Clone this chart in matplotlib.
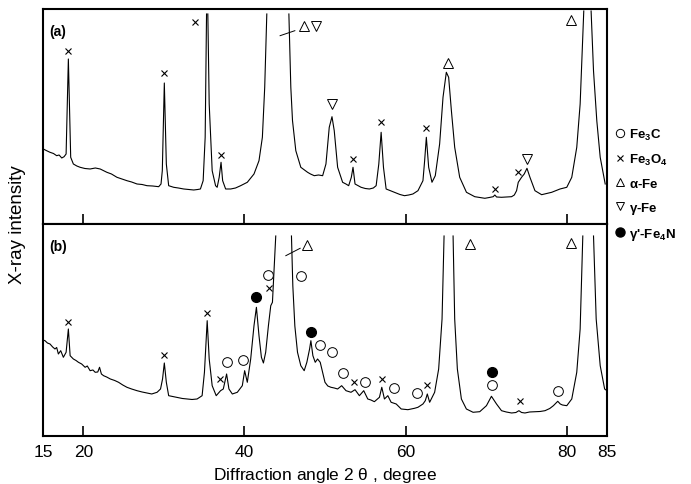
import numpy as np
import matplotlib
matplotlib.use('Agg')
import matplotlib.pyplot as plt
from matplotlib.lines import Line2D

plt.rcParams['font.family'] = ['Liberation Sans', 'DejaVu Sans']
plt.rcParams['mathtext.default'] = 'regular'

nan = np.nan

# pattern (a) -- 2theta in degree, intensity in arb. units (nan = pen off scale)
two_theta_a = [15.04, 15.4, 15.87, 16.3, 16.70, 17.0, 17.33, 17.62, 17.87, 18.15, 18.44, 18.77,
               19.2, 19.61, 20.2, 20.85, 21.5, 22.10, 22.93, 23.5, 24.18, 24.8, 25.42, 26.0,
               26.67, 27.3, 27.91, 28.6, 29.36, 29.65, 29.81, 30.06, 30.31, 30.60, 31.22, 31.8,
               32.47, 33.1, 33.71, 34.2, 34.54, 34.88, 35.13, 35.30, nan, 35.46, 35.63, 36.00,
               36.42, 36.62, 36.87, 37.10, 37.30, 37.67, 38.3, 38.9, 39.53, 40.36, 41.19, 41.81,
               42.23, 42.52, 42.78, nan, 45.52, 45.76, 45.97, 46.38, 47.0, 47.84, 48.2, 48.67,
               49.2, 49.71, 50.12, 50.53, 50.87, 51.15, 51.57, 52.19, 52.6, 52.94, 53.27, 53.48,
               53.73, 54.48, 55.0, 55.51, 56.0, 56.35, 56.68, 56.97, 57.26, 57.59, 58.63, 59.3,
               59.87, 60.4, 60.91, 61.54, 62.16, 62.37, 62.58, 62.87, 63.28, 63.69, 64.23, 64.65,
               65.06, 65.35, 65.69, 66.10, 66.72, 67.56, 68.59, 69.2, 69.84, 70.4, 70.88, 71.08,
               71.3, 71.91, 72.5, 73.16, 73.5, 73.78, 73.99, 74.40, 74.73, 75.07, 75.44, 76.06,
               76.89, 77.5, 78.14, 78.7, 79.17, 80.01, 80.63, 81.25, 81.67, 81.96, 82.12, nan,
               83.03, 83.33, 83.74, 84.16, 84.78]
intensity_a = [75, 73.5, 71.7, 70.5, 68.3, 69, 66, 67.3, 70, 165, 66.7, 60,
               58, 56.7, 55.5, 55, 56, 55, 51.7, 50, 46.7, 45, 43.3, 42,
               40, 39.5, 38.3, 38, 37.3, 40, 53.3, 141, 60, 38.3, 36.7, 36,
               35, 34.5, 34, 34.5, 35, 43.3, 86.7, 210, nan, 210, 120, 53.3,
               38.3, 36.7, 46.7, 61.7, 43.3, 35, 35, 36, 38.3, 41.7, 50, 63.3,
               86.7, 136.7, 210, nan, 210, 136.7, 103.3, 73.3, 56.7, 51.7, 50, 48.3,
               49, 48.3, 60, 96.7, 107.3, 93.3, 56.7, 41.7, 40, 38.3, 46.7, 56.7,
               40, 36.7, 35.5, 35, 36, 38.3, 60, 91.7, 56.7, 35, 31.7, 29.5,
               28.3, 29, 30, 33.3, 43.3, 63.3, 86.7, 56.7, 41.7, 48.3, 80, 126.7,
               151.7, 146.7, 113.3, 76.7, 46.7, 31.7, 27.3, 26.5, 25.7, 26.5, 27.3, 29,
               27, 26.7, 27, 27.3, 29, 33.3, 41.7, 46.7, 50, 55.7, 46.7, 33.3,
               29.3, 30.5, 31.7, 33.5, 35, 36.7, 46.7, 76.7, 120, 180, 213, nan,
               213, 153, 103, 66.7, 40]

# pattern (b)
two_theta_b = [15.0, 15.25, 15.55, 15.87, 16.2, 16.49, 16.7, 16.91, 17.20, 17.53, 17.87, 18.15,
               18.37, 18.77, 19.1, 19.40, 19.8, 20.23, 20.5, 20.85, 21.2, 21.48, 21.8, 22.02,
               22.25, 22.52, 22.9, 23.36, 23.9, 24.38, 24.9, 25.42, 26.0, 26.67, 27.3, 27.91,
               28.5, 29.16, 29.59, 29.84, 30.06, 30.31, 30.60, 31.1, 31.64, 32.3, 32.89, 33.5,
               34.13, 34.75, 35.04, 35.38, 35.63, 36.00, 36.50, 37.04, 37.38, 37.79, 38.08, 38.5,
               39.12, 39.74, 40.03, 40.36, 40.78, 41.19, 41.49, 41.81, 42.11, 42.36, 42.64, 42.98,
               43.27, 43.48, 43.69, 43.89, nan, 45.84, 46.01, 46.26, 46.59, 47.0, 47.42, 47.75,
               48.09, 48.25, 48.50, 48.79, 49.08, 49.41, 49.71, 50.0, 50.35, 50.74, 51.15, 51.57,
               52.07, 52.61, 53.23, 53.73, 54.27, 54.81, 55.31, 55.7, 56.13, 56.76, 57.05, 57.38,
               57.80, 58.21, 58.84, 59.46, 60.29, 61.12, 61.54, 62.16, 62.45, 62.70, 62.99, 63.61,
               64.11, 64.53, 64.78, nan, 65.90, 66.10, 66.43, 66.93, 67.55, 68.38, 69.21, 70.04,
               70.66, 71.29, 71.91, 72.5, 73.16, 73.7, 74.07, 74.4, 74.82, 75.4, 76.06, 76.7,
               77.31, 77.9, 78.35, 78.89, 79.2, 79.47, 80.01, 80.63, 81.25, 81.67, 82.0, nan,
               83.33, 83.66, 84.16, 84.71, 84.99]
intensity_b = [96, 95.3, 93, 92, 89, 87, 88.5, 82, 85.3, 78.7, 83.7, 107,
               80.3, 77, 75.5, 73.7, 72, 68.7, 70, 65.3, 66, 63.7, 64, 68.7,
               62, 60.3, 59, 57, 55.5, 53.7, 51, 48.7, 47, 45.3, 44, 43,
               42, 43.7, 47, 57, 73, 53.7, 40.3, 39.5, 38.7, 37.5, 37, 36.5,
               37, 40.3, 63.7, 115.3, 77, 50.3, 40.3, 45.3, 47, 62, 47, 42,
               43.7, 50.3, 65.3, 53.7, 77, 110.3, 128.7, 100.3, 78.7, 73, 83.7, 110.3,
               130.3, 133.7, 167, 200, nan, 200, 150, 110, 83.7, 70.3, 65.3, 73.7,
               87, 95.3, 80.3, 73.7, 77, 73.7, 63.7, 53.7, 50, 48.7, 48, 47,
               50.3, 45.3, 43.7, 46.3, 40.3, 45.3, 37, 36, 34.3, 38.7, 48.7, 37,
               40.3, 33.7, 32, 27, 26.3, 27.7, 28.7, 32, 35.3, 42, 33.7, 43.7,
               67, 117, 200, nan, 200, 117, 67, 37, 27, 23.7, 24.3, 30.3,
               39.7, 32, 25.3, 24, 23, 23.5, 25.3, 23.5, 23, 24, 24.3, 24.5,
               25.3, 27.5, 30.3, 34.7, 32, 31, 30.3, 37, 63.7, 107, 200, nan,
               200, 117, 70.3, 47, 45.3]

# phase symbols placed over the peaks (2theta, intensity)
fe3o4_a_x = [18.15, 30.07, 33.84, 37.04, 53.44, 56.97, 62.49, 71.08, 73.99]
fe3o4_a_y = [173.3, 151, 201.7, 69.3, 65, 101.7, 95.7, 35, 51.7]
alpha_a_x = [47.42, 65.27, 80.54]
alpha_a_y = [198.3, 160.7, 204]
gamma_a_x = [48.87, 50.83, 75.02]
gamma_a_y = [198.3, 120, 65]

fe3o4_b_x = [18.15, 30.07, 35.38, 36.92, 43.06, 53.57, 57.09, 62.66, 74.19]
fe3o4_b_y = [114.3, 81, 122.7, 57, 147.7, 54.3, 56.7, 51.3, 34.7]
fe3c_b_x = [37.87, 39.87, 42.93, 47.0, 49.33, 50.83, 52.27, 54.97, 58.55, 61.40, 70.67, 78.89]
fe3c_b_y = [73.7, 76.3, 161, 159.7, 91.3, 84.3, 62.7, 53.7, 48.3, 43, 51, 44.7]
fe4n_b_x = [41.40, 48.25, 70.67]
fe4n_b_y = [138.7, 103.7, 63.7]
alpha_b_x = [47.75, 67.96, 80.54]
alpha_b_y = [191, 192, 192.7]

# leader strokes across the off-scale alpha-Fe(110) peak
lead_a = ([44.43, 46.26], [188.3, 193.3])
lead_b = ([45.14, 46.92], [180.3, 187.7])

sym = dict(
    fe3c=dict(marker='o', ms=7, mfc='white', mec='black', mew=0.7, ls='none'),
    fe3o4=dict(marker='x', ms=5, mec='black', mew=0.8, ls='none'),
    alpha=dict(marker='^', ms=7, mfc='white', mec='black', mew=0.7, ls='none'),
    gamma=dict(marker='v', ms=7, mfc='white', mec='black', mew=0.7, ls='none'),
    fe4n=dict(marker='o', ms=7, mfc='black', mec='black', ls='none'),
)

fig = plt.figure(figsize=(6.91, 4.85), dpi=100)
ax_a = fig.add_axes([0.0622, 0.5361, 0.8162, 0.4433])
ax_b = fig.add_axes([0.0622, 0.0990, 0.8162, 0.4371])

ax_a.plot(two_theta_a, intensity_a, color='black', lw=0.8)
ax_a.plot(fe3o4_a_x, fe3o4_a_y, **sym['fe3o4'])
ax_a.plot(alpha_a_x, alpha_a_y, **sym['alpha'])
ax_a.plot(gamma_a_x, gamma_a_y, **sym['gamma'])
ax_a.plot(*lead_a, color='black', lw=0.7)
ax_a.set_ylim(0, 215)

ax_b.plot(two_theta_b, intensity_b, color='black', lw=0.8)
ax_b.plot(fe3c_b_x, fe3c_b_y, **sym['fe3c'])
ax_b.plot(fe3o4_b_x, fe3o4_b_y, **sym['fe3o4'])
ax_b.plot(fe4n_b_x, fe4n_b_y, **sym['fe4n'])
ax_b.plot(alpha_b_x, alpha_b_y, **sym['alpha'])
ax_b.plot(*lead_b, color='black', lw=0.7)
ax_b.set_ylim(0, 212)

for ax, tag in ((ax_a, '(a)'), (ax_b, '(b)')):
    ax.set_xlim(15, 85)
    ax.set_yticks([])
    ax.set_xticks([20, 40, 60, 80])
    ax.tick_params(axis='x', which='major', direction='in', length=7, width=1.2)
    for s in ax.spines.values():
        s.set_linewidth(1.5)
    ax.text(0.012, 0.93, tag, transform=ax.transAxes, fontsize=10,
            fontweight='bold', va='top', ha='left')

ax_a.tick_params(axis='x', labelbottom=False)
ax_b.set_xticks([15, 85], minor=True, labels=['15', '85'])
ax_b.tick_params(axis='x', which='both', labelsize=12.5, pad=6)
ax_b.tick_params(axis='x', which='minor', length=0)
ax_b.set_xlabel(r'Diffraction angle 2 $\theta$ , degree', fontsize=12.5, labelpad=4)
fig.text(0.026, 0.5361, 'X-ray intensity', rotation=90, fontsize=13.5,
         ha='center', va='center')

handles = [
    Line2D([], [], **dict(sym['fe3c'], ms=6)),
    Line2D([], [], **dict(sym['fe3o4'], ms=4.5)),
    Line2D([], [], **dict(sym['alpha'], ms=6)),
    Line2D([], [], **dict(sym['gamma'], ms=5.5)),
    Line2D([], [], **dict(sym['fe4n'], ms=6.5)),
]
labels = ['Fe$_3$C', 'Fe$_3$O$_4$', r'$\alpha$-Fe', r'$\gamma$-Fe', r"$\gamma$'-Fe$_4$N"]
fig.legend(handles, labels, loc='upper left', bbox_to_anchor=(0.882, 0.75),
           frameon=False, handlelength=0.6, handletextpad=0.4, labelspacing=0.75,
           borderpad=0, prop=dict(size=9.5, weight='bold'))

fig.savefig('out.png', dpi=100)
